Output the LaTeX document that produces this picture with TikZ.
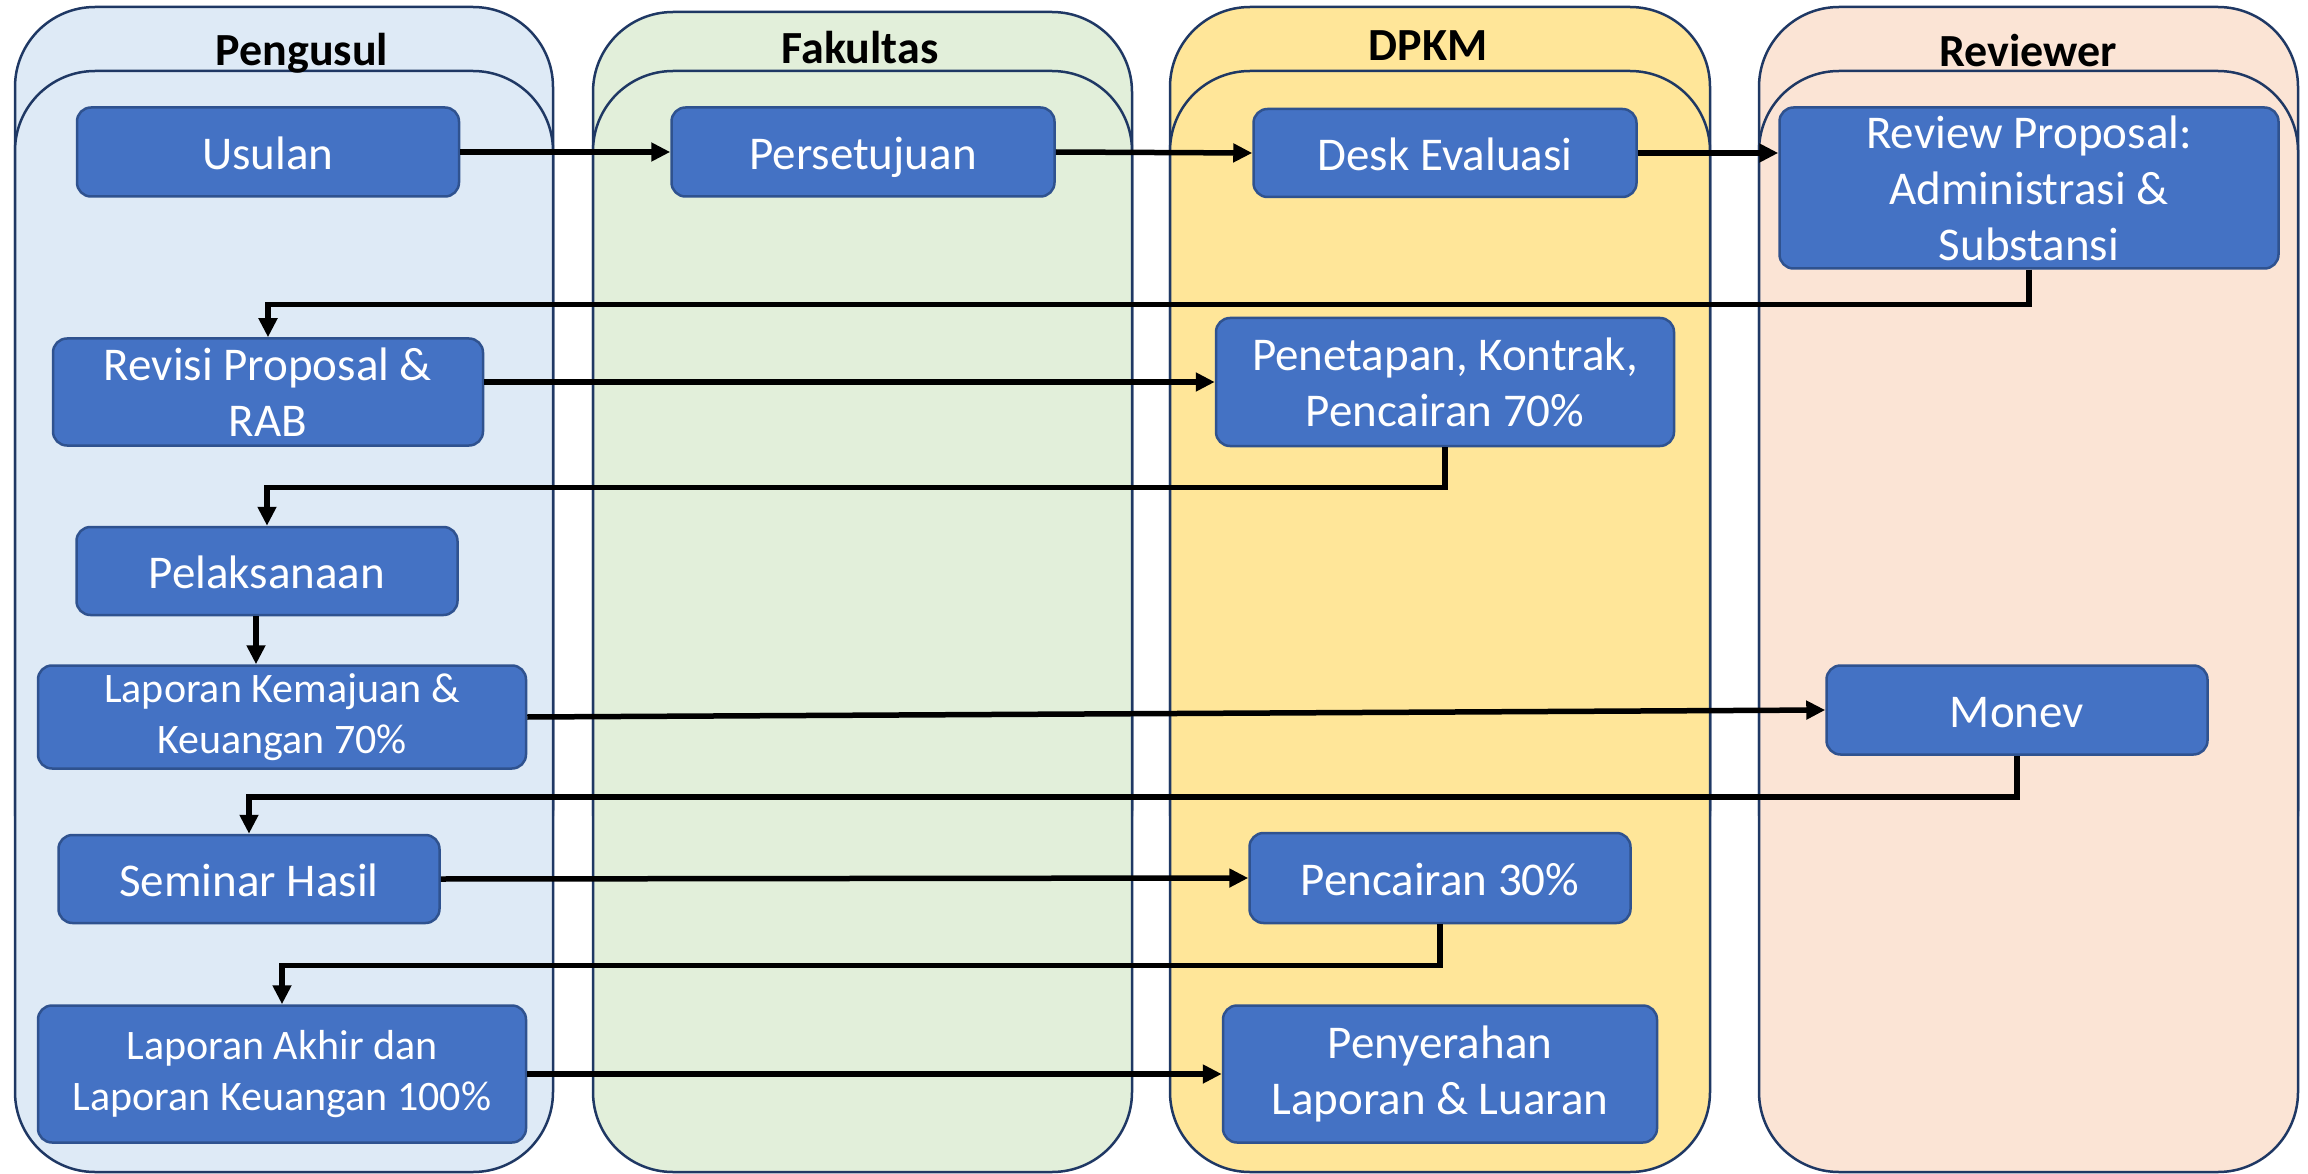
\documentclass[tikz,border=0pt]{standalone}
\usepackage{fontspec}
\setmainfont{Carlito}
\usetikzlibrary{arrows.meta}
\definecolor{boxblue}{HTML}{4472C4}
\definecolor{boxedge}{HTML}{2F528F}
\definecolor{laneedge}{HTML}{1F3864}
\definecolor{laneA}{HTML}{DEEAF6}
\definecolor{laneB}{HTML}{E2EFDA}
\definecolor{laneC}{HTML}{FFE699}
\definecolor{laneD}{HTML}{FBE4D5}
\begin{document}
\begin{tikzpicture}[x=1pt,y=-1pt,
 lane/.style={draw=laneedge,line width=2.5pt,rounded corners=80pt},
 proc/.style={draw=boxedge,fill=boxblue,line width=2.5pt,rounded corners=14pt,text=white,align=center,inner sep=0pt,font=\fontsize{47}{56}\selectfont},
 oneline/.style={text height=35pt,text depth=0pt},
 smalltext/.style={font=\fontsize{42}{51}\selectfont},
 lanetitle/.style={font=\fontsize{46}{50}\selectfont\bfseries,inner sep=0pt,anchor=base},
 flow/.style={line width=5.5pt,-{Triangle[length=19pt,width=18pt]}}]
\useasboundingbox (0,0) rectangle (2308,1174);
\fill[white] (0,0) rectangle (2308,1174);
% lanes: outer then inner
\draw[lane,fill=laneA] (15,7) rectangle (553,890);
\draw[lane,fill=laneA] (15,71) rectangle (553,1172);
\draw[lane,fill=laneB] (593,12) rectangle (1132,890);
\draw[lane,fill=laneB] (593,71) rectangle (1132,1172);
\draw[lane,fill=laneC] (1170,7) rectangle (1710,890);
\draw[lane,fill=laneC] (1170,71) rectangle (1710,1172);
\draw[lane,fill=laneD] (1759,7) rectangle (2298,890);
\draw[lane,fill=laneD] (1759,71) rectangle (2298,1172);
% titles
\node[lanetitle] (tA) at (302,66) {Pengusul};
\node[lanetitle] (tB) at (860,64) {Fakultas};
\node[lanetitle] (tC) at (1428,61) {DPKM};
\node[lanetitle] (tD) at (2028,67) {Reviewer};
% process boxes
\node[proc,oneline,minimum width=382pt,minimum height=89pt] (us) at (268,152) {Usulan};
\node[proc,oneline,minimum width=383pt,minimum height=89pt] (per) at (863,152) {Persetujuan};
\node[proc,oneline,minimum width=383pt,minimum height=88pt] (de) at (1445,153) {Desk Evaluasi};
\node[proc,minimum width=499pt,minimum height=161pt] (rp) at (2029,188) {Review Proposal:\\Administrasi \&\\Substansi};
\node[proc,minimum width=430pt,minimum height=107pt] (rv) at (268,392) {Revisi Proposal \&\\RAB};
\node[proc,minimum width=458pt,minimum height=128pt] (pn) at (1445,382) {Penetapan, Kontrak,\\Pencairan 70\%};
\node[proc,oneline,minimum width=381pt,minimum height=88pt] (pl) at (267,571) {Pelaksanaan};
\node[proc,smalltext,minimum width=488pt,minimum height=103pt] (lk) at (282,717) {Laporan Kemajuan \&\\Keuangan 70\%};
\node[proc,oneline,minimum width=381pt,minimum height=89pt] (mo) at (2017,710) {Monev};
\node[proc,oneline,minimum width=381pt,minimum height=88pt] (sh) at (249,879) {Seminar Hasil};
\node[proc,oneline,minimum width=381pt,minimum height=90pt] (pc) at (1440,878) {Pencairan 30\%};
\node[proc,smalltext,minimum width=488pt,minimum height=137pt] (la) at (282,1074) {Laporan Akhir dan\\Laporan Keuangan 100\%};
\node[proc,minimum width=434pt,minimum height=137pt] (py) at (1440,1074) {Penyerahan\\Laporan \& Luaran};
% connectors
\draw[flow] (us.east) -- (per.west);
\draw[flow] (per.east) -- (de.west);
\draw[flow] (de.east) -- (rp.west |- de.east);
\draw[flow] (rp.south) -- ++(0,35) -| (rv.north);
\draw[flow] (rv.east |- pn.west) -- (pn.west);
\draw[flow] (pn.south) -- ++(0,40) -| (pl.north);
\draw[flow] ([xshift=-11pt]pl.south) -- ([xshift=-11pt]pl.south |- lk.north);
\draw[flow] (lk.east) -- (mo.west);
\draw[flow] (mo.south) -- ++(0,41) -| (sh.north);
\draw[flow] (sh.east) -- (pc.west);
\draw[flow] (pc.south) -- ++(0,41) -| (la.north);
\draw[flow] (la.east) -- (py.west);
\end{tikzpicture}
\end{document}
